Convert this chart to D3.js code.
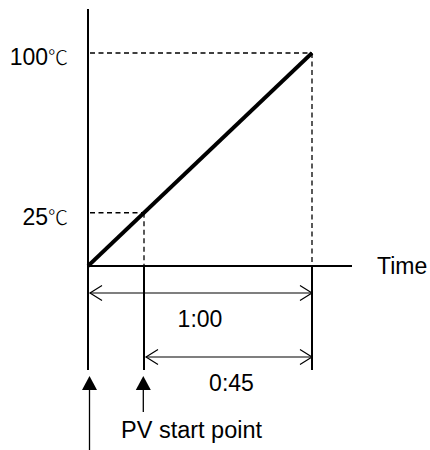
<!DOCTYPE html>
<html><head><meta charset="utf-8">
<script src="https://cdn.jsdelivr.net/npm/d3@7"></script>
<style>body{margin:0;background:#fff}svg{display:block}</style>
</head><body>
<script>
// Data
const rampTimes = [0, 60];          // minutes
const rampTemps = [0, 100];         // °C
const tempLabels = [100, 25];       // marked temperatures
const pvStartTime = 15;             // minutes (PV start point)
const spanLabels = ["1:00", "0:45"];
const spanStarts = [0, 15];
const spanEnd = 60;
const axisLabel = "Time";
const pvLabel = "PV start point";

const W = 430, H = 450;
const svg = d3.select("body").append("svg").attr("width", W).attr("height", H);
const x = d3.scaleLinear().domain([0, 60]).range([88, 312]);
const y = d3.scaleLinear().domain([0, 100]).range([266, 53]);
const font = "'Liberation Sans', Arial, sans-serif";
const fs = 23;

// axes
svg.append("line").attr("x1", x(0)).attr("x2", x(0)).attr("y1", 9).attr("y2", 370)
  .attr("stroke", "#000").attr("stroke-width", 2);
svg.append("line").attr("x1", x(0)).attr("x2", 352).attr("y1", y(0)).attr("y2", y(0))
  .attr("stroke", "#000").attr("stroke-width", 2);
svg.append("text").attr("x", 377).attr("y", y(0) + 8).attr("font-family", font)
  .attr("font-size", fs).text(axisLabel);

// dashed guide lines
tempLabels.forEach(t => {
  const tx = x(rampTimes[0] + (rampTimes[1] - rampTimes[0]) * (t - rampTemps[0]) / (rampTemps[1] - rampTemps[0]));
  svg.append("line").attr("x1", x(0) + 2).attr("x2", tx).attr("y1", y(t)).attr("y2", y(t))
    .attr("stroke", "#000").attr("stroke-width", 1.3).attr("stroke-dasharray", "5,3.5");
  svg.append("line").attr("x1", tx).attr("x2", tx).attr("y1", y(t)).attr("y2", y(0))
    .attr("stroke", "#000").attr("stroke-width", 1.3).attr("stroke-dasharray", "5,3.5");
  const lab = svg.append("text").attr("x", 68).attr("y", y(t) + 12).attr("text-anchor", "end")
    .attr("font-family", font).attr("font-size", fs);
  lab.append("tspan").text(t);
  lab.append("tspan").attr("font-family", "'Noto Sans CJK JP', sans-serif").attr("font-size", 20)
    .attr("font-weight", 300).text("℃");
});

// ramp
svg.append("path")
  .attr("d", d3.line().x(d => x(d[0])).y(d => y(d[1]))(rampTimes.map((t, i) => [t, rampTemps[i]])))
  .attr("stroke", "#000").attr("stroke-width", 3.8).attr("fill", "none");

// solid verticals below axis
[pvStartTime, spanEnd].forEach(t => {
  svg.append("line").attr("x1", x(t)).attr("x2", x(t)).attr("y1", y(0)).attr("y2", 370)
    .attr("stroke", "#000").attr("stroke-width", 2);
});

// double arrows
const arrowYs = [293, 357];
const labelYs = [327, 391];
spanStarts.forEach((s, i) => {
  const x1 = x(s) + 2, x2 = x(spanEnd), yy = arrowYs[i];
  svg.append("line").attr("x1", x1).attr("x2", x2).attr("y1", yy).attr("y2", yy)
    .attr("stroke", "#000").attr("stroke-width", 1.2);
  svg.append("path").attr("d", `M${x1 + 12},${yy - 7.5}L${x1},${yy}L${x1 + 12},${yy + 7.5}`)
    .attr("stroke", "#000").attr("stroke-width", 1.2).attr("fill", "none");
  svg.append("path").attr("d", `M${x2 - 12},${yy - 7.5}L${x2},${yy}L${x2 - 12},${yy + 7.5}`)
    .attr("stroke", "#000").attr("stroke-width", 1.2).attr("fill", "none");
  svg.append("text").attr("x", (x(0) + x(spanEnd)) / 2 + (i === 0 ? 0 : 31.5))
    .attr("y", labelYs[i]).attr("text-anchor", "middle")
    .attr("font-family", font).attr("font-size", fs).text(spanLabels[i]);
});

// filled arrows pointing up
const upArrows = [{t: 0, dx: 1.5, end: 450}, {t: pvStartTime, dx: -0.7, end: 412}];
upArrows.forEach(a => {
  const cx = x(a.t) + a.dx;
  svg.append("path").attr("d", `M${cx},376L${cx + 7.5},390L${cx - 7.5},390Z`).attr("fill", "#000");
  svg.append("line").attr("x1", cx).attr("x2", cx).attr("y1", 389).attr("y2", a.end)
    .attr("stroke", "#000").attr("stroke-width", 1.3);
});
svg.append("text").attr("x", 121).attr("y", 437.5).attr("font-family", font)
  .attr("font-size", 23.5).text(pvLabel);
</script>
</body></html>
